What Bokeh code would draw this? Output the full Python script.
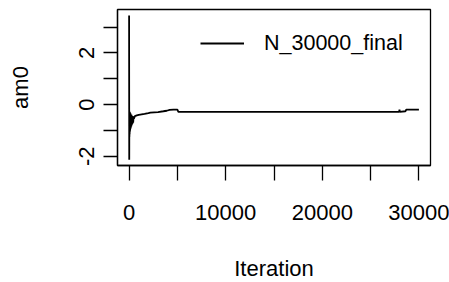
from bokeh.plotting import figure
from bokeh.models import Range1d, FixedTicker, Legend, LegendItem
from bokeh.embed import file_html
from bokeh.resources import INLINE

# ---- data ----
iteration = [0, 15, 25, 35, 45, 55, 65, 80, 95, 110, 125, 140, 160, 180, 200,
             225, 250, 280, 310, 340, 380, 420, 460, 500, 600, 800, 1000, 1300,
             1600, 2000, 2200, 2600, 3000, 3550, 3900, 4200, 4600, 5000, 5100,
             8000, 12000, 16000, 20000, 24000, 27950, 27990, 28020, 28600,
             28690, 29500, 30000]
am0 = [3.45, -2.14, -0.25, -1.25, -0.3, -1.15, -0.35, -1.05, -0.3, -1.0, -0.4,
       -0.95, -0.35, -0.9, -0.45, -0.85, -0.4, -0.8, -0.5, -0.75, -0.45, -0.7,
       -0.5, -0.55, -0.45, -0.42, -0.4, -0.38, -0.36, -0.33, -0.31, -0.3,
       -0.29, -0.26, -0.24, -0.21, -0.2, -0.2, -0.28, -0.28, -0.28, -0.28,
       -0.28, -0.28, -0.28, -0.2, -0.28, -0.26, -0.2, -0.2, -0.2]

x_ticks = [0, 5000, 10000, 15000, 20000, 25000, 30000]
x_tick_labels = {0: "0", 5000: "", 10000: "10000", 15000: "", 20000: "20000",
                 25000: "", 30000: "30000"}
y_ticks = [-2, -1, 0, 1, 2, 3]
y_tick_labels = {-2: "-2", -1: "", 0: "0", 1: "", 2: "2", 3: ""}
series_name = "N_30000_final"
x_title = "Iteration"
y_title = "am0"

FONT = "Liberation Sans"
FS = "22px"

p = figure(frame_width=313, frame_height=156,
           min_border_left=117, min_border_right=19,
           min_border_top=9, min_border_bottom=117,
           x_range=Range1d(-1200, 31200), y_range=Range1d(-2.36, 3.68),
           output_backend="svg", toolbar_location=None)

r = p.line(iteration, am0, line_color="black", line_width=1.8)

p.grid.visible = False
p.outline_line_color = "black"
p.outline_line_width = 1.3
p.background_fill_color = "white"
p.border_fill_color = "white"

p.xaxis.ticker = FixedTicker(ticks=x_ticks)
p.xaxis.major_label_overrides = {k: v for k, v in x_tick_labels.items()}
p.yaxis.ticker = FixedTicker(ticks=y_ticks)
p.yaxis.major_label_overrides = {k: v for k, v in y_tick_labels.items()}

for ax in (p.xaxis[0], p.yaxis[0]):
    ax.axis_line_color = "black"
    ax.axis_line_width = 1.3
    ax.major_tick_line_color = "black"
    ax.major_tick_line_width = 1.3
    ax.major_tick_in = 0
    ax.minor_tick_line_color = None
    ax.major_label_text_font = FONT
    ax.major_label_text_font_size = FS
    ax.major_label_text_color = "black"
    ax.axis_label_text_font = FONT
    ax.axis_label_text_font_size = FS
    ax.axis_label_text_font_style = "normal"
    ax.axis_label_text_color = "black"

p.xaxis.major_tick_out = 15
p.xaxis.major_label_standoff = 24
p.xaxis.axis_label = x_title
p.xaxis.axis_label_standoff = 33

p.yaxis.major_tick_out = 14
p.yaxis.major_label_orientation = "vertical"
p.yaxis.major_label_standoff = 9
p.yaxis.axis_label = y_title
p.yaxis.axis_label_standoff = 44

legend = Legend(items=[LegendItem(label=series_name, renderers=[r])],
                location=(83, 109), border_line_color=None,
                background_fill_alpha=0, padding=0, margin=0,
                glyph_width=44, glyph_height=26, label_height=26,
                label_standoff=20, label_text_font=FONT,
                label_text_font_size="21.5px", label_text_color="black")
p.add_layout(legend)

open("out.html", "w").write(file_html(p, INLINE))
